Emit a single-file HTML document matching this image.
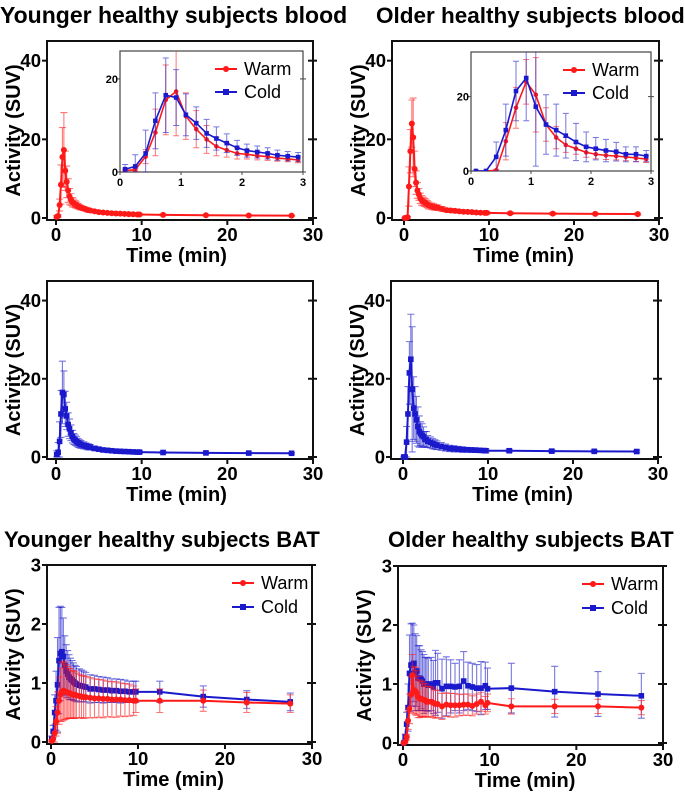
<!DOCTYPE html>
<html><head><meta charset="utf-8"><style>
html,body{margin:0;padding:0;background:#fff;}
svg{display:block;font-family:"Liberation Sans",Arial,sans-serif;}
</style></head><body>
<svg id="fig" width="685" height="795" viewBox="0 0 685 795" xmlns="http://www.w3.org/2000/svg">
<text x="0" y="23" font-size="23" font-weight="bold">Younger healthy subjects blood</text>
<text x="376" y="23" font-size="22.5" font-weight="bold">Older healthy subjects blood</text>
<text x="4" y="547" font-size="22" font-weight="bold">Younger healthy subjects BAT</text>
<text x="388" y="547" font-size="22" font-weight="bold">Older healthy subjects BAT</text>
</svg>
<script>
const times = [0.083,0.25,0.42,0.58,0.75,0.92,1.08,1.25,1.42,1.58,1.75,1.92,2.08,2.25,2.42,2.58,2.75,2.92,3.25,3.5,3.75,4,4.5,5,5.5,6,6.5,7,7.5,8,8.5,9,9.5,9.75,12.5,17.5,22.5,27.5];
const youngWarmBlood = [0.3,0.5,3.3,8.5,15.5,17.3,12,9.2,7,5.5,4.7,4,3.8,3.5,3.3,3,2.8,2.6,2.4,2.2,2,1.9,1.7,1.5,1.4,1.3,1.2,1.15,1.1,1.05,1,0.95,0.9,0.9,0.8,0.7,0.65,0.6];
const youngWarmBloodErr = [0.3,0.3,1.5,5,7.5,9.5,5,4,3,2,1.5,1.2,1,0.9,0.8,0.7,0.6,0.6,0.5,0.5,0.5,0.45,0.4,0.35,0.3,0.3,0.3,0.25,0.25,0.25,0.2,0.2,0.2,0.2,0.2,0.15,0.15,0.15];
const youngColdBlood = [0.6,1.2,4,11,16.5,16,12.3,10.5,8.3,7.2,6.2,5.2,4.6,4.3,4,3.6,3.4,3.2,3,2.8,2.6,2.5,2.2,2,1.8,1.7,1.6,1.5,1.45,1.4,1.35,1.3,1.25,1.25,1.15,1.05,1,0.95];
const youngColdBloodErr = [1,2.5,5,6,8,6,4.5,3.5,3,2.5,2,1.6,1.4,1.3,1.2,1.1,1,1,0.9,0.8,0.8,0.7,0.6,0.5,0.5,0.4,0.4,0.4,0.35,0.35,0.3,0.3,0.3,0.3,0.25,0.2,0.2,0.2];
const oldWarmBlood = [0,0,0.2,8,17,24,20.5,12.5,9,7,6,5,4.5,4.2,4,3.8,3.5,3.2,3,2.8,2.7,2.6,2.3,2,1.9,1.8,1.7,1.6,1.55,1.5,1.4,1.35,1.3,1.3,1.2,1.1,1.05,1];
const oldWarmBloodErr = [0,0,0.2,5,5.5,6,10,4.5,3,2,1.5,1.3,1.2,1.1,1,1,0.9,0.9,0.8,0.8,0.7,0.7,0.6,0.5,0.5,0.5,0.45,0.45,0.4,0.4,0.4,0.35,0.35,0.35,0.3,0.3,0.25,0.25];
const oldColdBlood = [0,0,3.8,11,21.5,25,17.3,12.5,11,9.5,7.8,6.5,6,5.5,5.2,4.5,4.5,4,3.7,3.4,3.2,3,2.7,2.4,2.2,2.1,2,1.9,1.85,1.8,1.75,1.7,1.65,1.6,1.6,1.5,1.45,1.4];
const oldColdBloodErr = [0,0,4,7,8,11.5,16,8,7,6,5,4,3,3,2.5,2,2,1.5,1.4,1.3,1.2,1.1,1,0.9,0.8,0.8,0.7,0.7,0.6,0.6,0.6,0.5,0.5,0.5,0.4,0.35,0.3,0.3];
const youngWarmBat = [0.02,0.05,0.15,0.35,0.5,0.7,0.8,0.85,0.87,0.86,0.85,0.84,0.83,0.82,0.81,0.8,0.8,0.79,0.78,0.77,0.76,0.76,0.75,0.74,0.74,0.73,0.73,0.72,0.72,0.72,0.71,0.71,0.7,0.7,0.7,0.7,0.67,0.65];
const youngWarmBatErr = [0.02,0.05,0.15,0.25,0.35,0.4,0.45,0.5,0.5,0.48,0.46,0.44,0.42,0.42,0.4,0.4,0.4,0.38,0.37,0.36,0.36,0.35,0.34,0.33,0.32,0.32,0.3,0.3,0.3,0.28,0.28,0.27,0.25,0.2,0.2,0.18,0.17,0.15];
const youngColdBat = [0.05,0.18,0.5,0.7,0.97,1.38,1.5,1.53,1.45,1.3,1.2,1.15,1.1,1.07,1.05,1.02,1,0.98,0.96,0.95,0.94,0.93,0.9,0.9,0.89,0.88,0.88,0.87,0.87,0.86,0.86,0.85,0.85,0.85,0.85,0.77,0.72,0.68];
const youngColdBatErr = [0.05,0.1,0.3,0.5,0.8,0.9,0.8,0.75,0.65,0.5,0.45,0.4,0.38,0.35,0.33,0.32,0.3,0.3,0.28,0.27,0.26,0.25,0.24,0.23,0.22,0.22,0.21,0.2,0.2,0.2,0.19,0.18,0.18,0.18,0.18,0.18,0.15,0.15];
const oldWarmBat = [0,0.02,0.1,0.38,0.58,0.82,1.15,0.9,0.88,0.85,0.78,0.75,0.75,0.74,0.73,0.72,0.7,0.7,0.7,0.68,0.66,0.66,0.62,0.65,0.64,0.64,0.64,0.65,0.65,0.63,0.66,0.7,0.64,0.68,0.62,0.62,0.62,0.6];
const oldWarmBatErr = [0,0.02,0.05,0.15,0.25,0.3,0.35,0.4,0.4,0.38,0.35,0.32,0.3,0.3,0.28,0.28,0.26,0.26,0.25,0.25,0.24,0.23,0.22,0.2,0.2,0.2,0.18,0.18,0.18,0.17,0.17,0.16,0.15,0.15,0.13,0.12,0.12,0.12];
const oldColdBat = [0,0.1,0.32,0.6,1.18,1.32,1.33,1.35,1.2,1.22,1.1,1.1,1.08,1.05,1,1,1,0.98,1,0.95,1.02,1.02,0.92,0.96,0.96,0.95,0.96,1.05,0.97,0.95,0.93,0.93,0.97,0.92,0.93,0.87,0.83,0.8];
const oldColdBatErr = [0,0.05,0.2,0.4,0.65,0.7,0.7,0.65,0.65,0.6,0.55,0.55,0.5,0.5,0.5,0.45,0.45,0.45,0.45,0.45,0.55,0.5,0.5,0.5,0.45,0.4,0.45,0.5,0.4,0.4,0.4,0.45,0.4,0.35,0.42,0.43,0.38,0.38];
const xTicks = [0,10,20,30];
const bloodYTicks = [0,20,40];
const batYTicks = [0,1,2,3];
const insetXTicks = [0,1,2,3];
const insetYTicks = [0,20];

const NS="http://www.w3.org/2000/svg";
const svg=document.getElementById('fig');
function mk(tag,attrs,parent){const e=document.createElementNS(NS,tag);for(const k in attrs)e.setAttribute(k,attrs[k]);(parent||svg).appendChild(e);return e;}
const RED="#ff1a1a", BLUE="#1a1acc";

function axes(g,c){
  const sx=v=>c.x0+(v-c.xmin)/(c.xmax-c.xmin)*(c.x1-c.x0);
  const sy=v=>c.y0-(v-c.ymin)/(c.ymax-c.ymin)*(c.y0-c.y1);
  return {sx,sy};
}
function series(g,t,vals,errs,color,shape,sx,sy,o){
  const sg=mk('g',{},g);
  
  
  const pts=[];
  for(let i=0;i<t.length;i++){
    if(t[i]>o.xmax)break;
    const x=sx(t[i]),y=sy(vals[i]);pts.push(x+','+y);
    if(errs){
      const yt=Math.max(sy(vals[i]+errs[i]),o.ytop), yb=sy(Math.max(vals[i]-errs[i],0));
      const eb=mk('path',{d:`M${x},${yt}V${yb}M${x-o.cap},${yt}H${x+o.cap}M${x-o.cap},${yb}H${x+o.cap}`,stroke:color,'stroke-width':o.ew,'stroke-opacity':0.6,fill:'none'},sg);
      
      
    }
  }
  const pl=mk('polyline',{points:pts.join(' '),fill:'none',stroke:color,'stroke-width':o.lw},sg);
  
  
  for(let i=0;i<t.length;i++){
    if(t[i]>o.xmax)break;
    const x=sx(t[i]),y=sy(vals[i]);let m;
    if(shape==='c')m=mk('circle',{cx:x,cy:y,r:o.ms,fill:color},sg);
    else m=mk('rect',{x:x-o.ms,y:y-o.ms,width:2*o.ms,height:2*o.ms,fill:color},sg);
    
    
  }
}
function legend(g,x,y,gap,fs){
  const lg=mk('g',{},g);
  
  
  [["Warm",RED,'c'],["Cold",BLUE,'s']].forEach((d,i)=>{
    const yy=y+i*gap;
    mk('line',{x1:x,x2:x+22,y1:yy,y2:yy,stroke:d[1],'stroke-width':2},lg);
    if(d[2]==='c')mk('circle',{cx:x+11,cy:yy,r:3,fill:d[1]},lg);else mk('rect',{x:x+8,y:yy-3,width:6,height:6,fill:d[1]},lg);
    const tx=mk('text',{x:x+29,y:yy+6,'font-size':fs},lg);tx.textContent=d[0];
    
    
  });
}
function panel(name,c,ser,yt,leg){
  const g=mk('g',{});
  
  
  const {sx,sy}=axes(g,c);
  const fb=c.y0+2;
  mk('rect',{x:c.fl,y:c.y1,width:c.x1-c.fl,height:fb-c.y1,fill:'none',stroke:'#111','stroke-width':2},g);
  yt.forEach(v=>{const y=sy(v);
    mk('line',{x1:c.fl-5,x2:c.fl,y1:y,y2:y,stroke:'#111','stroke-width':2},g);
    mk('line',{x1:c.x1-5,x2:c.x1+4,y1:y,y2:y,stroke:'#111','stroke-width':2},g);
    const t=mk('text',{x:c.fl-6,y:y+6.5,'font-size':18.5,'font-weight':'bold','text-anchor':'end'},g);t.textContent=v;
    
    
  });
  xTicks.forEach(v=>{const x=sx(v);
    mk('line',{x1:x,x2:x,y1:fb,y2:fb+5,stroke:'#111','stroke-width':2},g);
    const t=mk('text',{x:x,y:fb+21,'font-size':18.5,'font-weight':'bold','text-anchor':'middle'},g);t.textContent=v;
    
    
  });
  const xl=mk('text',{x:(c.x0+c.x1)/2-8,y:fb+42,'font-size':20,'font-weight':'bold','text-anchor':'middle'},g);xl.textContent='Time (min)';
  
  
  const yl=mk('text',{x:0,y:0,'font-size':20,'font-weight':'bold','text-anchor':'middle',transform:`translate(${c.fl-27},${(c.y1+fb)/2}) rotate(-90)`},g);yl.textContent='Activity (SUV)';
  
  
  ser.forEach(s=>series(g,times,s[0],s[1],s[2],s[3],sx,sy,{xmax:40,ytop:c.y1,cap:3.5,ew:1.1,lw:2,ms:s[3]==='c'?3:2.8,name:s[4]}));
  if(leg)legend(g,leg[0],leg[1],24,18);
  return g;
}
function inset(parent,name,c,ser){
  const g=mk('g',{},parent);
  
  
  const {sx,sy}=axes(g,c);
  mk('rect',{x:c.x0,y:c.y1,width:c.x1-c.x0,height:c.y0-c.y1,fill:'#fff',stroke:'#444','stroke-width':1.2},g);
  insetYTicks.forEach(v=>{const y=sy(v);
    mk('line',{x1:c.x0-3,x2:c.x0,y1:y,y2:y,stroke:'#444'},g);
    mk('line',{x1:c.x1-3,x2:c.x1+3,y1:y,y2:y,stroke:'#444'},g);
    const t=mk('text',{x:c.x0-2,y:y+4,'font-size':11,'font-weight':'bold','text-anchor':'end'},g);t.textContent=v;
    
    
  });
  insetXTicks.forEach(v=>{const x=sx(v);
    mk('line',{x1:x,x2:x,y1:c.y0,y2:c.y0+3,stroke:'#444'},g);
    const t=mk('text',{x:x,y:c.y0+14,'font-size':11,'font-weight':'bold','text-anchor':'middle'},g);t.textContent=v;
    
    
  });
  const cp=mk('clipPath',{id:'cp'+name},g);mk('rect',{x:c.x0,y:c.y1,width:c.x1-c.x0,height:c.y0-c.y1},cp);
  const inner=mk('g',{'clip-path':`url(#cp${name})`},g);
  ser.forEach(s=>series(inner,times,s[0],s[1],s[2],s[3],sx,sy,{xmax:3.1,ytop:c.y1-20,cap:3,ew:1,lw:1.6,ms:2.3,name:s[4]}));
  legend(g,c.x1-88,c.y1+18,23,18);
}
const p1=panel('panel-younger-blood',{fl:47,x0:56,x1:313,y0:218,y1:41,xmin:0,xmax:30,ymin:0,ymax:45},
  [[youngWarmBlood,youngWarmBloodErr,RED,'c','series-warm']],bloodYTicks);
inset(p1,'inset-younger-blood',{x0:120,x1:303,y0:172,y1:51,xmin:0,xmax:3,ymin:0,ymax:26},
  [[youngWarmBlood,youngWarmBloodErr,RED,'c','inset-series-warm'],[youngColdBlood,youngColdBloodErr,BLUE,'s','inset-series-cold']]);
const p2=panel('panel-older-blood',{fl:392,x0:404,x1:659,y0:218,y1:41,xmin:0,xmax:30,ymin:0,ymax:45},
  [[oldWarmBlood,oldWarmBloodErr,RED,'c','series-warm']],bloodYTicks);
inset(p2,'inset-older-blood',{x0:471,x1:651,y0:171,y1:52,xmin:0,xmax:3,ymin:0,ymax:32},
  [[oldWarmBlood,oldWarmBloodErr,RED,'c','inset-series-warm'],[oldColdBlood,oldColdBloodErr,BLUE,'s','inset-series-cold']]);
panel('panel-younger-blood-cold',{fl:47,x0:56,x1:313,y0:457,y1:281,xmin:0,xmax:30,ymin:0,ymax:45},
  [[youngColdBlood,youngColdBloodErr,BLUE,'s','series-cold']],bloodYTicks);
panel('panel-older-blood-cold',{fl:391,x0:403,x1:658,y0:457,y1:281,xmin:0,xmax:30,ymin:0,ymax:45},
  [[oldColdBlood,oldColdBloodErr,BLUE,'s','series-cold']],bloodYTicks);
panel('panel-younger-bat',{fl:47,x0:51,x1:312,y0:742,y1:565,xmin:0,xmax:30,ymin:0,ymax:3},
  [[youngColdBat,youngColdBatErr,BLUE,'s','series-cold'],[youngWarmBat,youngWarmBatErr,RED,'c','series-warm']],batYTicks,[232,583]);
panel('panel-older-bat',{fl:398,x0:403,x1:663,y0:743,y1:566,xmin:0,xmax:30,ymin:0,ymax:3},
  [[oldColdBat,oldColdBatErr,BLUE,'s','series-cold'],[oldWarmBat,oldWarmBatErr,RED,'c','series-warm']],batYTicks,[582,584]);
</script>
</body></html>
